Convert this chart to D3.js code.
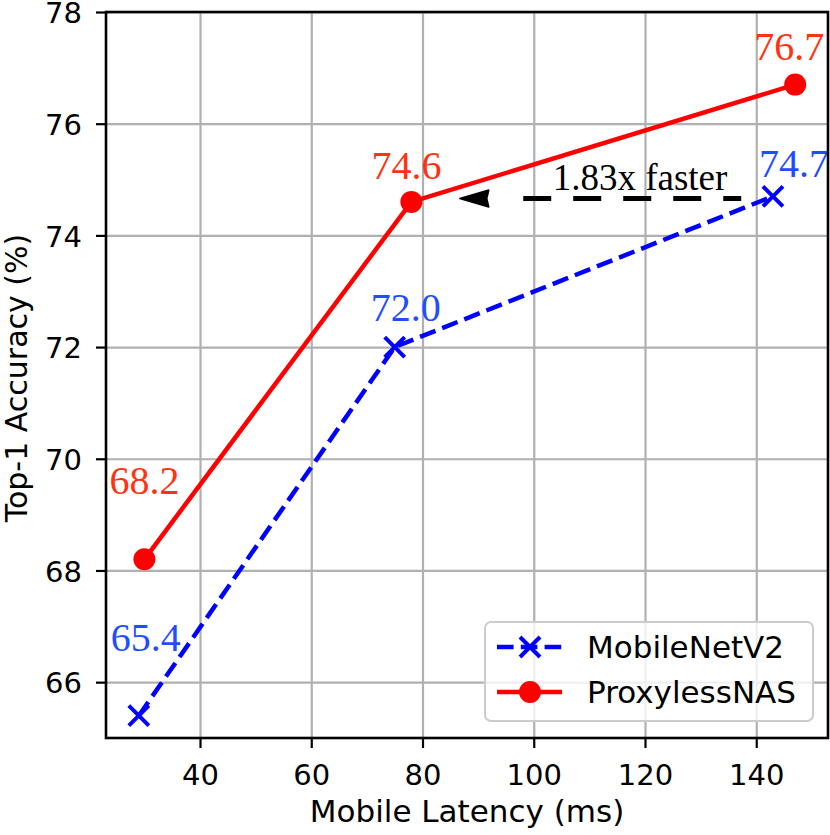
<!DOCTYPE html>
<html>
<head>
<meta charset="utf-8">
<script src="https://cdn.jsdelivr.net/npm/d3@7"></script>
<style>
  html, body { margin: 0; padding: 0; background: #fff; }
  svg { display: block; }
</style>
</head>
<body>
<svg id="chart" width="830" height="835"></svg>
<script>
// ---- data ----
const seriesNames = ["MobileNetV2", "ProxylessNAS"];
const mobilenetLatency = [29, 75, 143];
const mobilenetAcc = [65.4, 72.0, 74.7];
const proxylessLatency = [30, 78, 147];
const proxylessAcc = [68.2, 74.6, 76.7];
const xTicks = [40, 60, 80, 100, 120, 140];
const yTicks = [66, 68, 70, 72, 74, 76, 78];
const annotationText = "1.83x faster";
const arrowFrom = [137.3, 74.66];
const arrowTo = [86.7, 74.66];

// ---- layout ----
const W = 830, H = 835;
const L = 106, R = 828, T = 12, B = 738;
const svg = d3.select("#chart");

const x = d3.scaleLinear().domain([23.1, 152.9]).range([L, R]);
const y = d3.scaleLinear().domain([65, 78]).range([B, T]);

const sansFont = "'DejaVu Sans', sans-serif";
const serifFont = "'Liberation Serif', 'Times New Roman', serif";
const blue = "#0000ff", red = "#ff0000";
const blueText = "#1f4dff", redText = "#ff3311";

// grid
const gx = svg.append("g").attr("transform", `translate(0,${B})`)
  .call(d3.axisBottom(x).tickValues(xTicks).tickSize(-(B - T)).tickFormat(""));
gx.select(".domain").remove();
gx.selectAll("line").attr("stroke", "#b0b0b0").attr("stroke-width", 2.2);
const gy = svg.append("g").attr("transform", `translate(${L},0)`)
  .call(d3.axisLeft(y).tickValues(yTicks).tickSize(-(R - L)).tickFormat(""));
gy.select(".domain").remove();
gy.selectAll("line").attr("stroke", "#b0b0b0").attr("stroke-width", 2.2);

// lines
const line = d3.line().x(d => x(d[0])).y(d => y(d[1]));
const mData = mobilenetLatency.map((v, i) => [v, mobilenetAcc[i]]);
const pData = proxylessLatency.map((v, i) => [v, proxylessAcc[i]]);

svg.append("path").datum(mData).attr("d", line)
  .attr("fill", "none").attr("stroke", blue).attr("stroke-width", 4.5)
  .attr("stroke-dasharray", "16.6 7.2");
const xm = 10;
svg.append("g").selectAll("path").data(mData).join("path")
  .attr("d", d => `M${x(d[0]) - xm},${y(d[1]) - xm}L${x(d[0]) + xm},${y(d[1]) + xm}M${x(d[0]) - xm},${y(d[1]) + xm}L${x(d[0]) + xm},${y(d[1]) - xm}`)
  .attr("stroke", blue).attr("stroke-width", 4).attr("fill", "none");

svg.append("path").datum(pData).attr("d", line)
  .attr("fill", "none").attr("stroke", red).attr("stroke-width", 4.5);
svg.append("g").selectAll("circle").data(pData).join("circle")
  .attr("cx", d => x(d[0])).attr("cy", d => y(d[1])).attr("r", 11).attr("fill", red);

// value labels (offsets in px relative to point)
const mOff = [[7, -65], [11, -26], [21, -19]];
const pOff = [[0, -65], [-5, -23], [-6, -25]];
svg.append("g").selectAll("text").data(mData).join("text")
  .attr("x", (d, i) => x(d[0]) + mOff[i][0]).attr("y", (d, i) => y(d[1]) + mOff[i][1])
  .attr("text-anchor", "middle").attr("font-family", serifFont).attr("font-size", 40)
  .attr("fill", blueText).text(d => d[1].toFixed(1));
svg.append("g").selectAll("text").data(pData).join("text")
  .attr("x", (d, i) => x(d[0]) + pOff[i][0]).attr("y", (d, i) => y(d[1]) + pOff[i][1])
  .attr("text-anchor", "middle").attr("font-family", serifFont).attr("font-size", 40)
  .attr("fill", redText).text(d => d[1].toFixed(1));

// annotation arrow
const ax0 = x(arrowFrom[0]), ay = y(arrowFrom[1]), ax1 = x(arrowTo[0]);
svg.append("line").attr("x1", ax0).attr("y1", ay).attr("x2", ax1 + 43).attr("y2", ay)
  .attr("stroke", "#000").attr("stroke-width", 5)
  .attr("stroke-dasharray", "28 22").attr("stroke-dashoffset", 10);
svg.append("path")
  .attr("d", `M${ax1},${ay}L${ax1 + 29},${ay - 8.5}L${ax1 + 27},${ay}L${ax1 + 29},${ay + 8.5}Z`)
  .attr("fill", "#000").attr("stroke", "#000").attr("stroke-width", 1.5).attr("stroke-linejoin", "round");

svg.append("text").attr("x", 640).attr("y", 190)
  .attr("text-anchor", "middle").attr("font-family", serifFont).attr("font-size", 37)
  .attr("fill", "#000").text(annotationText);

// axes
const axB = svg.append("g").attr("transform", `translate(0,${B})`)
  .call(d3.axisBottom(x).tickValues(xTicks).tickSize(10).tickPadding(16));
const axL = svg.append("g").attr("transform", `translate(${L},0)`)
  .call(d3.axisLeft(y).tickValues(yTicks).tickSize(10).tickPadding(14));
[axB, axL].forEach(g => {
  g.select(".domain").remove();
  g.selectAll("line").attr("stroke", "#000").attr("stroke-width", 2.2);
  g.selectAll("text").attr("font-family", sansFont).attr("font-size", 29).attr("fill", "#000");
});
axL.selectAll("text").attr("dy", "0.37em");
// frame
svg.append("rect").attr("x", L).attr("y", T).attr("width", R - L).attr("height", B - T)
  .attr("fill", "none").attr("stroke", "#000").attr("stroke-width", 2.6);

// axis labels
svg.append("text").attr("x", (L + R) / 2).attr("y", 822)
  .attr("text-anchor", "middle").attr("font-family", sansFont).attr("font-size", 31)
  .text("Mobile Latency (ms)");
svg.append("text").attr("transform", `translate(27,378) rotate(-90)`)
  .attr("text-anchor", "middle").attr("font-family", sansFont).attr("font-size", 30)
  .text("Top-1 Accuracy (%)");

// legend
const lg = svg.append("g");
lg.append("rect").attr("x", 485).attr("y", 622).attr("width", 328).attr("height", 99)
  .attr("rx", 6).attr("fill", "rgba(255,255,255,0.8)").attr("stroke", "#cccccc").attr("stroke-width", 2);
const rows = [647, 692];
lg.append("line").attr("x1", 497).attr("x2", 562).attr("y1", rows[0]).attr("y2", rows[0])
  .attr("stroke", blue).attr("stroke-width", 4.5).attr("stroke-dasharray", "16.6 7.2");
lg.append("path")
  .attr("d", `M${530 - xm},${rows[0] - xm}L${530 + xm},${rows[0] + xm}M${530 - xm},${rows[0] + xm}L${530 + xm},${rows[0] - xm}`)
  .attr("stroke", blue).attr("stroke-width", 4);
lg.append("line").attr("x1", 497).attr("x2", 562).attr("y1", rows[1]).attr("y2", rows[1])
  .attr("stroke", red).attr("stroke-width", 4.5);
lg.append("circle").attr("cx", 530).attr("cy", rows[1]).attr("r", 11).attr("fill", red);
lg.selectAll("text.lt").data(seriesNames).join("text")
  .attr("x", 587).attr("y", (d, i) => rows[i]).attr("dy", "0.36em")
  .attr("font-family", sansFont).attr("font-size", 31).text(d => d);
</script>
</body>
</html>
